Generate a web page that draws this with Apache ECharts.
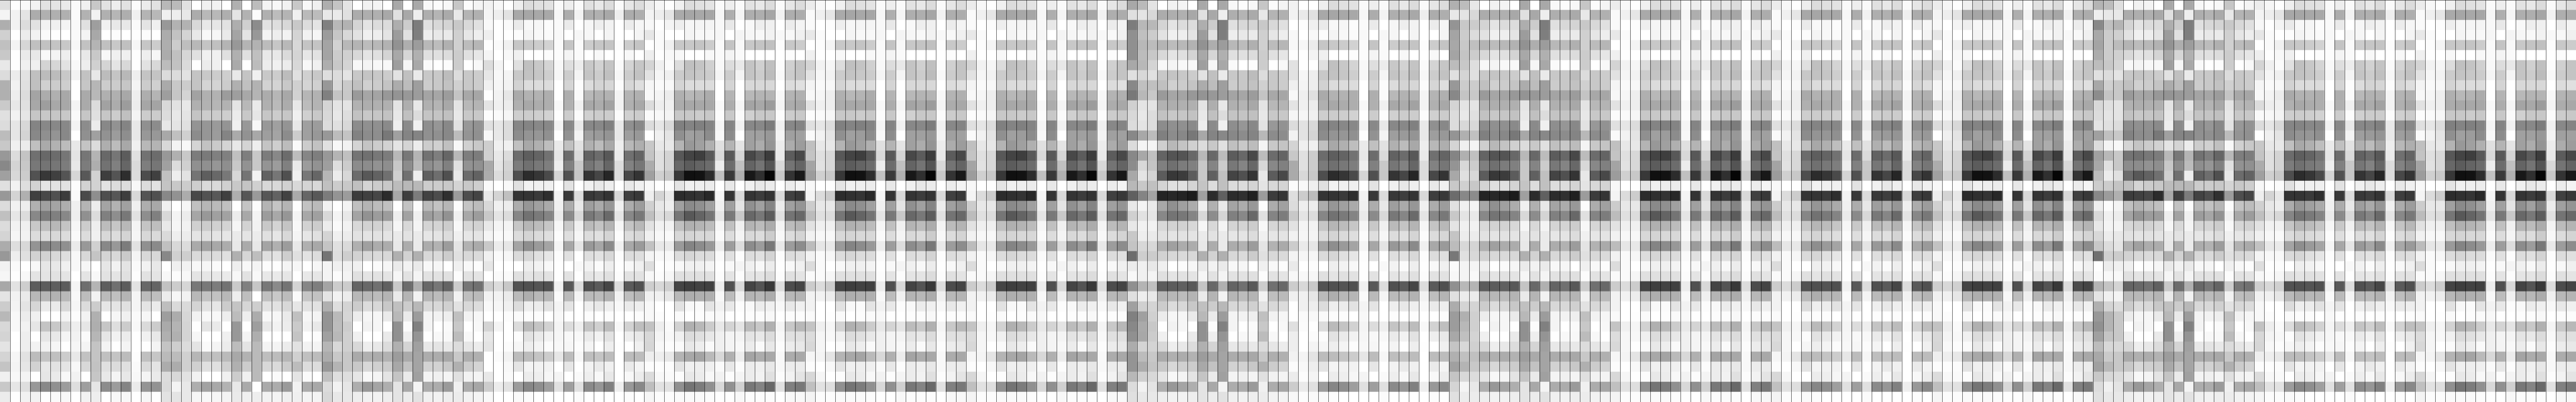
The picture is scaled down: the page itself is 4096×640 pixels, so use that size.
<!DOCTYPE html>
<html><head><meta charset="utf-8">
<style>html,body{margin:0;padding:0;background:#fff}#c{width:4096px;height:640px}</style>
<script src="https://cdn.jsdelivr.net/npm/echarts@6/dist/echarts.min.js"></script>
</head><body><div id="c"></div>
<script>
// Grey level of each cell. Columns are listed top row first.
const V0a=[224,244,174,208,192,200,232,220,176,176,202,224,220,188,200,152,136,160,224,152,220,192,220,212,172,152,242,246,168,228,204,184,216,212,228,212,196,240,200,236];
const V0b=[254,242,242,254,244,254,254,236,242,238,232,242,230,230,240,220,212,216,242,212,242,230,242,246,222,238,250,254,226,242,244,248,248,255,254,246,244,248,230,254];
const V0c=[250,228,220,236,214,234,240,226,224,220,224,230,216,212,236,196,200,204,222,176,238,220,240,242,216,224,255,248,206,234,228,236,242,238,238,226,230,244,222,242];
const M0=[242,172,226,242,192,232,240,192,192,164,168,198,132,136,192,112,120,82,210,64,176,136,200,220,148,210,248,228,92,184,214,240,230,255,242,188,210,255,152,242];
const M1=[226,176,242,250,194,248,212,188,208,172,158,200,136,144,170,104,116,56,228,72,160,124,190,220,132,210,230,228,92,182,234,255,196,230,242,196,232,230,136,254];
const M2=[228,176,240,254,196,244,214,188,204,176,168,198,136,148,178,108,118,64,226,80,164,128,184,216,140,216,232,226,94,178,234,255,200,232,246,192,226,234,144,250];
const M3=[234,176,244,255,200,238,226,200,206,168,168,200,136,136,188,118,124,84,226,60,174,136,196,220,144,222,240,228,92,184,216,244,220,244,255,204,228,248,156,248];
const M4=[250,250,248,250,246,254,248,242,254,255,244,250,242,255,232,228,232,214,252,250,240,238,246,250,234,248,248,255,244,248,246,252,238,242,246,232,248,242,222,255];
const M5=[240,178,224,244,194,232,238,194,198,170,170,198,140,144,196,118,124,88,210,74,180,144,204,220,152,216,246,228,110,188,220,242,230,250,244,194,216,255,158,242];
const M6=[200,242,158,168,180,200,208,232,182,184,220,224,236,160,220,180,174,210,210,142,236,220,238,240,208,196,255,248,180,242,204,176,174,182,196,196,194,198,230,238];
const M7=[226,176,240,255,192,248,212,188,204,176,162,198,136,146,174,104,114,62,226,78,164,128,188,216,136,212,230,226,94,186,230,255,198,230,244,192,224,232,140,255];
const M8=[238,182,232,252,200,240,228,196,204,176,172,204,146,156,188,118,128,84,220,86,178,142,198,220,152,216,242,228,112,192,228,246,222,242,255,196,220,244,156,248];
const M9=[226,174,232,255,192,240,216,184,198,168,156,192,132,142,168,92,102,46,220,62,160,120,184,212,124,202,228,224,92,180,224,240,204,236,244,188,224,232,132,248];
const M10=[252,240,250,254,246,254,255,238,244,238,236,244,232,232,240,224,218,220,248,216,240,226,244,246,226,244,250,253,226,244,244,250,248,255,255,253,250,248,234,255];
const M11=[236,180,228,252,198,238,226,196,204,174,166,204,144,152,184,114,126,76,220,84,174,142,196,216,144,216,242,226,104,188,228,246,218,240,254,192,218,244,148,246];
const M12=[226,184,240,255,204,246,216,196,208,180,164,204,140,152,180,108,118,64,226,80,168,128,190,218,138,216,232,228,100,190,234,255,204,232,244,198,228,234,146,255];
const A1a=[184,240,152,172,174,172,188,220,170,158,216,220,232,168,216,152,160,192,196,136,240,216,232,218,192,136,255,248,194,236,190,158,170,176,196,186,172,220,218,226];
const A1b=[186,238,178,194,204,192,194,220,200,198,226,232,228,192,244,176,220,238,200,146,255,244,246,238,216,208,240,252,204,246,218,172,180,176,206,188,172,216,244,228];
const A1c=[224,232,178,212,190,214,218,226,204,212,232,228,224,208,248,200,208,226,204,172,246,236,242,236,220,206,242,248,214,242,218,214,212,212,220,208,208,226,232,232];
const Xa0=[255,172,216,232,184,224,255,196,196,162,176,196,148,140,212,124,144,116,206,72,192,166,208,228,170,218,248,228,120,184,212,242,255,246,228,182,208,242,174,246];
const Xa1=[240,184,232,248,196,240,236,200,212,176,178,204,150,150,194,122,144,94,218,82,182,152,204,224,162,218,246,230,120,194,226,248,228,255,250,192,224,255,162,248];
const Xa2=[242,184,230,246,192,240,240,204,212,178,182,204,154,156,202,128,150,104,218,88,186,160,208,228,168,220,250,232,124,194,230,248,234,255,244,192,224,255,168,246];
const Xa3=[255,174,226,234,180,224,255,206,204,156,178,206,148,132,212,128,142,120,208,64,192,162,212,230,172,224,255,234,114,184,204,238,255,240,236,186,208,240,178,244];
const Xa4=[176,228,174,164,152,176,170,232,176,158,228,236,240,170,232,192,200,216,200,174,255,236,246,234,232,176,238,248,202,238,196,188,152,152,188,168,176,204,232,234];
const Xa5=[255,178,208,228,180,224,255,196,192,168,184,200,152,146,212,126,146,116,196,86,196,168,210,228,170,214,248,226,128,190,214,238,255,244,228,178,204,240,170,240];
const Xa6=[188,252,140,152,178,192,188,240,178,180,234,230,248,168,238,200,200,244,208,154,252,244,242,236,232,190,244,248,198,255,206,172,158,174,186,186,186,186,255,238];
const Xa7=[244,176,226,244,188,232,236,200,210,172,176,198,152,158,196,124,148,98,216,86,180,156,200,224,164,222,252,232,120,192,226,248,232,255,244,190,216,255,170,242];
const Xa8=[248,188,222,238,198,232,240,204,212,182,186,204,160,164,206,136,156,118,216,98,196,168,212,230,176,226,254,234,138,200,226,246,242,255,244,188,218,250,172,244];
const Xa9=[242,180,216,242,184,218,236,188,200,168,172,198,148,140,188,108,128,80,208,66,180,150,196,216,156,206,244,230,116,188,216,234,236,255,236,182,204,255,154,240];
const Xa10=[200,240,200,212,216,212,216,224,208,210,232,240,232,204,250,188,234,240,216,170,254,244,248,244,232,224,246,255,212,250,230,192,202,196,226,208,188,228,242,240];
const Xa11=[248,186,220,242,196,230,248,208,212,182,188,208,160,160,204,134,156,120,212,102,194,168,210,230,176,226,255,232,134,198,226,246,242,255,242,192,220,250,172,244];
const Xa12=[240,188,228,246,196,226,240,200,208,178,180,200,156,152,194,126,146,102,216,88,186,160,204,224,168,220,246,230,126,194,226,244,232,252,244,188,220,255,168,244];
const A2a=[174,232,128,156,164,164,174,222,152,128,212,216,220,152,224,152,158,182,192,124,242,216,236,212,196,116,244,244,164,228,176,148,148,160,182,172,152,192,220,216];
const A2b=[196,234,184,198,210,204,200,220,216,196,228,232,224,188,248,180,222,236,204,148,255,244,250,240,224,222,240,252,204,242,222,186,188,184,216,200,180,222,242,232];
const A2c=[228,224,178,216,184,208,212,228,202,200,228,222,216,196,242,192,204,216,200,156,244,232,242,236,218,206,240,244,204,236,212,214,204,208,208,200,200,222,230,232];
const Xb0=[255,172,212,226,180,216,248,200,192,154,178,194,140,130,212,116,140,108,192,60,192,164,216,226,176,210,240,224,100,184,204,236,255,240,216,170,200,230,174,238];
const Xb1=[242,174,228,240,188,228,244,196,208,166,174,200,144,140,196,112,140,88,212,64,180,146,210,228,160,216,255,228,104,184,220,246,242,255,238,176,216,248,152,242];
const Xb2=[244,176,220,238,184,224,248,200,204,164,176,198,144,142,204,120,146,98,204,70,188,156,210,226,172,218,251,226,112,188,216,246,246,255,232,172,208,244,164,242];
const Xb3=[255,168,220,228,178,212,248,204,196,152,176,194,138,120,210,124,142,112,200,44,192,156,216,228,172,216,246,228,96,180,200,234,255,234,220,178,204,228,174,238];
const Xb4=[168,224,174,156,146,168,158,226,172,148,228,232,238,160,228,184,200,208,188,168,255,238,246,234,232,176,234,246,200,234,192,184,144,144,176,156,168,196,228,228];
const Xb5=[255,168,204,224,174,214,246,192,188,152,174,192,138,132,212,120,140,112,184,62,194,162,216,226,172,210,242,226,108,180,204,234,251,238,212,170,194,234,168,236];
const Xb6=[168,238,124,126,156,176,168,234,158,156,232,220,240,132,236,180,188,238,184,124,252,240,244,234,234,176,234,244,176,242,184,156,128,148,160,164,164,160,244,226];
const Xb7=[248,174,224,238,184,224,250,200,204,164,176,196,142,144,204,114,142,96,204,66,186,156,212,230,172,216,248,226,104,182,216,244,244,254,232,172,210,244,172,240];
const Xb8=[252,180,216,232,188,224,255,200,200,166,180,196,150,144,208,126,150,110,204,76,194,166,212,228,178,218,246,226,118,188,216,242,255,248,228,172,210,240,172,242];
const Xb9=[248,170,212,234,176,220,252,188,194,156,168,192,136,136,192,102,128,80,200,48,182,146,204,220,156,204,255,224,100,180,208,238,250,248,232,168,200,244,154,238];
const Xb10=[198,232,200,208,208,204,204,220,208,196,228,232,226,188,248,184,224,232,212,156,252,240,248,240,228,224,240,252,204,242,226,192,200,188,220,200,176,224,240,236];
const Xb11=[252,180,216,230,188,224,255,200,200,168,184,200,152,148,208,126,146,108,200,78,196,168,214,230,178,216,248,226,118,190,216,242,255,248,230,174,204,242,172,242];
const Xb12=[244,176,224,238,182,230,248,204,204,166,180,200,146,144,200,124,144,98,206,68,188,156,210,228,170,218,252,228,112,186,220,246,248,255,236,176,212,244,166,244];
const V1a=[242,244,248,238,254,244,220,230,240,255,228,253,224,248,206,208,168,172,250,232,216,200,232,244,200,240,230,255,206,242,248,255,212,232,228,255,255,232,204,248];
const V1b=[248,238,254,254,250,255,244,248,246,242,240,250,230,232,240,232,228,220,255,212,240,228,244,250,236,250,255,250,220,242,246,255,244,255,255,251,255,255,236,255];
const V1c=[255,226,250,255,240,248,255,244,242,230,236,246,220,220,240,220,212,208,249,192,236,220,244,248,230,246,255,250,200,234,240,252,255,255,252,242,248,250,226,255];
// Dark tile, 13 body columns then 3 tail columns, listed row by row.
const D1rows=[
[238,220,224,226,250,238,250,224,232,220,250,230,220,236,246,254],
[168,166,168,168,246,172,242,174,176,168,238,172,174,244,238,228],
[234,248,246,252,250,234,255,246,238,242,255,236,246,248,255,244],
[252,244,248,250,248,255,246,246,255,244,255,255,244,230,250,255],
[198,200,204,210,250,196,250,204,198,196,252,204,196,255,250,240],
[240,255,255,252,252,244,250,255,248,255,255,248,255,238,254,248],
[224,192,200,212,248,222,236,200,210,196,250,212,198,212,240,251],
[200,194,198,206,246,204,244,196,204,192,246,204,194,226,246,240],
[210,220,220,220,255,212,252,220,212,214,252,214,222,246,250,248],
[170,178,178,174,255,174,250,184,178,178,244,180,176,248,244,236],
[176,168,172,174,248,176,240,168,172,162,242,176,168,220,238,240],
[206,204,206,210,254,204,252,208,204,204,252,208,204,250,248,244],
[134,132,136,136,242,136,232,136,136,128,232,144,136,220,230,216],
[140,148,150,144,254,146,244,158,154,148,232,158,152,255,240,228],
[192,168,176,190,234,192,226,176,188,168,238,184,174,200,232,232],
[108,94,100,114,230,108,218,98,108,88,234,112,100,196,224,212],
[124,112,120,126,238,128,200,118,130,102,220,130,118,172,224,212],
[78,44,54,74,212,80,198,52,70,38,220,72,52,160,208,200],
[224,242,240,240,255,226,255,240,232,238,255,232,240,248,255,252],
[52,52,58,46,242,56,220,56,62,52,216,62,56,238,212,232],
[172,150,160,170,240,172,232,158,170,150,240,172,156,208,232,238],
[134,114,122,132,234,138,216,120,134,106,228,136,120,192,224,216],
[198,182,188,198,246,200,240,186,196,180,246,196,184,226,242,242],
[220,212,218,222,252,222,246,220,224,212,252,220,214,240,248,250],
[164,142,154,164,244,166,228,152,166,138,240,168,154,194,232,234],
[218,214,224,230,252,224,255,222,226,216,252,220,222,244,248,248],
[255,238,242,248,254,255,248,242,251,238,254,248,240,222,254,252],
[224,228,224,226,254,226,254,228,232,224,252,226,226,248,252,246],
[82,80,84,80,240,88,220,80,90,70,220,90,80,206,216,208],
[186,174,184,182,250,186,244,186,188,178,242,190,180,240,240,230],
[220,238,236,226,244,228,255,238,232,238,248,234,238,248,255,255],
[250,252,252,255,248,254,255,252,255,252,255,255,252,248,252,255],
[220,186,196,210,244,220,238,196,208,188,248,210,190,194,238,250],
[252,226,234,242,246,248,248,234,242,226,255,238,232,216,244,248],
[246,238,244,252,248,246,252,244,255,238,254,255,240,214,248,252],
[188,188,196,204,230,188,246,190,196,188,255,188,188,238,238,232],
[228,244,242,242,255,230,255,242,234,240,255,234,244,252,253,252],
[255,236,238,246,244,255,250,238,248,232,255,248,236,220,248,250],
[156,134,142,158,224,158,224,138,150,128,238,152,136,190,226,226],
[250,252,255,255,255,255,251,255,255,255,255,252,255,246,252,252]];
const D2rows=[
[240,220,224,228,250,238,250,226,232,220,250,230,220],
[170,166,168,166,246,174,244,174,174,166,242,174,172],
[238,246,244,244,248,232,255,248,238,240,255,236,244],
[255,244,248,248,246,255,244,246,248,242,248,248,240],
[200,200,196,204,250,196,248,200,196,192,252,200,204],
[248,255,255,248,250,244,250,255,255,255,255,252,255],
[220,192,196,208,248,220,232,196,208,192,252,208,196],
[204,196,200,204,244,204,244,196,204,188,248,204,196],
[212,220,220,220,255,212,255,216,216,216,255,220,224],
[176,184,180,172,255,180,252,184,180,180,248,180,176],
[172,168,168,168,248,172,244,164,168,156,244,172,168],
[200,200,204,200,252,200,250,208,200,200,252,204,200],
[128,132,128,132,244,132,240,136,136,124,240,136,132],
[144,160,156,140,248,140,255,160,160,152,244,160,160],
[180,152,160,176,224,180,228,160,172,148,236,172,156],
[88,68,62,88,216,88,212,72,92,60,232,92,72],
[104,92,100,108,236,108,192,100,116,84,216,116,100],
[56,16,18,44,192,56,176,24,48,6,200,52,24],
[228,240,238,236,255,232,255,240,232,236,255,236,244],
[44,48,52,40,244,52,216,52,60,50,216,64,56],
[160,138,144,160,240,160,228,144,160,132,236,160,148],
[118,88,100,116,228,120,200,104,120,92,224,116,104],
[192,176,180,188,246,192,240,180,188,172,244,188,180],
[216,212,216,216,250,220,244,216,220,204,248,220,212],
[154,132,140,152,236,156,220,140,156,120,232,156,140],
[220,214,220,220,250,224,252,220,224,212,252,220,224],
[248,240,240,244,254,248,244,240,248,236,254,248,240],
[224,224,224,224,252,228,252,228,228,220,252,224,228],
[68,62,66,64,236,80,216,68,84,56,220,76,68],
[184,174,176,176,248,188,240,180,184,172,240,184,180],
[226,248,250,228,242,232,252,248,236,240,248,232,240],
[250,255,252,250,248,254,255,252,252,248,255,252,252],
[210,176,184,204,232,212,228,188,200,176,244,200,184],
[240,220,224,232,240,244,244,228,232,220,248,224,224],
[250,232,238,250,240,244,248,236,250,232,252,236,232],
[180,168,164,186,216,176,236,164,172,168,248,172,168],
[228,240,238,240,250,232,252,236,240,232,248,236,236],
[252,232,236,248,242,252,244,236,242,224,252,242,228],
[144,116,124,144,216,144,208,120,132,104,224,128,120],
[250,250,250,252,254,254,248,252,252,252,255,248,248]];
// Rows of the second, darker group of mixed tiles (row number, then 13 body columns).
const X2rows=[
[13,128,140,136,120,168,132,136,136,140,132,184,140,140],
[14,206,184,196,208,220,200,224,192,200,188,244,200,196],
[15,100,84,84,104,184,104,188,92,104,72,188,108,100],
[16,128,112,124,128,200,132,204,120,132,104,216,136,128],
[17,92,56,60,92,200,96,192,68,80,52,232,92,72],
[18,212,224,224,212,196,220,192,220,220,212,228,216,212],
[19,36,40,36,28,160,44,96,44,48,32,156,60,52],
[20,168,144,160,172,240,176,232,164,172,152,252,172,160],
[21,136,116,120,132,216,140,212,128,136,104,224,132,124],
[28,92,92,96,88,196,104,176,100,112,88,204,112,104]];
const V3a=[236,250,250,232,255,240,212,226,244,248,226,252,224,250,192,196,164,156,248,244,204,188,226,242,188,242,220,250,204,242,242,250,196,220,216,246,252,216,192,244];
const V3b=[248,240,255,250,252,254,242,246,250,246,240,250,230,242,232,224,226,208,255,220,232,224,240,248,230,250,250,250,220,242,255,255,240,246,246,244,255,246,226,252];
const V3c=[254,230,252,255,244,255,246,242,248,238,238,246,220,228,232,216,216,200,254,204,232,220,240,248,232,246,255,246,204,236,255,254,246,248,255,228,248,255,222,252];
const V4a=[242,242,255,248,248,253,226,226,240,248,228,246,220,242,212,200,170,170,252,222,220,200,226,242,204,244,234,248,204,240,255,255,224,238,238,242,251,236,204,248];
const V4b=[255,234,252,255,246,254,254,246,244,238,240,246,226,226,240,224,224,216,248,204,238,228,244,246,234,246,255,248,216,240,240,250,251,255,255,244,248,252,234,252];
const V4c=[255,224,240,248,236,244,254,238,238,224,236,240,216,212,240,204,204,200,240,188,236,220,242,244,230,246,252,246,200,230,238,248,254,251,244,228,238,244,224,250];
const A3a=[168,224,124,144,144,144,168,224,136,120,208,216,220,136,220,136,140,168,184,96,232,208,232,200,196,108,236,248,144,224,160,128,136,144,172,148,148,184,220,224];
const A3b=[186,228,184,192,184,188,184,216,192,184,228,232,228,168,244,168,216,228,200,132,244,226,242,238,216,206,240,240,180,238,208,160,170,168,212,188,172,208,242,232];
const A3c=[228,216,184,204,188,200,212,224,192,200,228,220,220,188,244,192,196,212,192,164,234,230,242,234,216,204,232,244,192,232,212,208,200,204,212,200,196,216,228,232];
const A4a=[176,232,148,164,168,164,188,224,152,136,212,220,220,148,212,132,148,168,200,108,224,200,228,196,188,120,251,248,144,224,172,156,156,168,196,176,160,196,212,224];
const A4b=[188,228,200,204,200,196,200,212,204,196,228,232,216,176,240,176,216,224,208,136,240,228,240,236,216,224,244,244,184,236,212,176,184,192,216,192,180,216,244,236];
const A4c=[232,216,204,220,192,204,222,224,204,200,228,224,216,192,244,192,204,216,200,140,244,232,242,236,212,216,244,248,180,236,212,208,208,212,208,192,200,220,232,236];
const A5a=[180,238,136,168,164,172,188,224,168,140,216,220,228,160,220,160,168,188,204,136,238,216,232,216,200,112,254,250,180,228,176,152,144,160,188,168,160,200,220,224];
const A5b=[188,232,192,204,204,204,200,220,208,196,224,228,224,192,244,184,224,236,204,156,252,240,244,236,220,208,236,248,196,240,212,180,180,196,216,202,184,216,240,232];
const A5c=[224,232,180,208,188,208,212,228,200,200,228,228,220,200,248,200,200,224,196,176,244,236,244,232,228,204,240,248,212,244,220,200,200,200,216,200,200,220,228,232];

const lineColor='#000000', lineWidth=0.533;
const pick=(rows,p)=>rows.map(r=>r[p]);
const range=n=>Array.from({length:n},(_,i)=>i);
const bodyM=[M0,M1,M2,M3,M4,M5,M6,M7,M8,M9,M10,M11,M12];
const bodyXa=[Xa0,Xa1,Xa2,Xa3,Xa4,Xa5,Xa6,Xa7,Xa8,Xa9,Xa10,Xa11,Xa12];
const bodyXb=[Xb0,Xb1,Xb2,Xb3,Xb4,Xb5,Xb6,Xb7,Xb8,Xb9,Xb10,Xb11,Xb12];
const bodyD1=range(13).map(p=>pick(D1rows,p));
const bodyD2=range(13).map(p=>pick(D2rows,p));
const bodyX2=bodyXb.map((col,p)=>{const c=col.slice();X2rows.forEach(r=>{c[r[0]]=r[p+1];});return c;});
const tailV2=[13,14,15].map(p=>pick(D1rows,p));
const tail0=[V0a,V0b,V0c],tailA1=[A1a,A1b,A1c],tailA2=[A2a,A2b,A2c],tailV1=[V1a,V1b,V1c],tailV3=[V3a,V3b,V3c],tailV4=[V4a,V4b,V4c],tailA3=[A3a,A3b,A3c],tailA4=[A4a,A4b,A4c],tailA5=[A5a,A5b,A5c];
const columns=[...tail0,
 ...bodyM,...tailA1,...bodyXa,...tailA2,...bodyXb,...tailV1,...bodyD1,...tailV2,
 ...bodyD2,...tailV3,...bodyD2,...tailV3,...bodyD2,...tailA3,...bodyX2,...tailV4,
 ...bodyD1,...tailA4,...bodyX2,...tailV3,...bodyD2,...tailV3,...bodyD1,...tailV2,
 ...bodyD2,...tailA5,...bodyXb,...tailV2,...bodyD1,...tailV3,...bodyD2];
const xCats=range(columns.length).map(String), yCats=range(40).map(String);
const cells=[];
columns.forEach((col,x)=>col.forEach((v,y)=>cells.push([x,y,v])));
const chart=echarts.init(document.getElementById('c'),null,{renderer:'canvas'});
const edgeAxis=pos=>({type:'category',data:xCats,position:pos,z:10,
  axisLine:{show:true,onZero:false,lineStyle:{color:lineColor,width:lineWidth}},axisTick:{show:false},axisLabel:{show:false},
  splitLine:{show:pos==='bottom',showMinLine:false,showMaxLine:false,interval:0,lineStyle:{color:lineColor,width:lineWidth}}});
chart.setOption({animation:false,backgroundColor:'#ffffff',
  grid:{left:0,right:0,top:0,bottom:0},
  xAxis:[edgeAxis('bottom'),edgeAxis('top')],
  yAxis:{type:'category',data:yCats,inverse:true,show:false},
  visualMap:{show:false,min:0,max:255,dimension:2,inRange:{color:['#000000','#ffffff']}},
  series:[{type:'heatmap',data:cells,xAxisIndex:0,yAxisIndex:0,progressive:0,silent:true,itemStyle:{borderWidth:0},emphasis:{disabled:true}}]});
</script></body></html>
